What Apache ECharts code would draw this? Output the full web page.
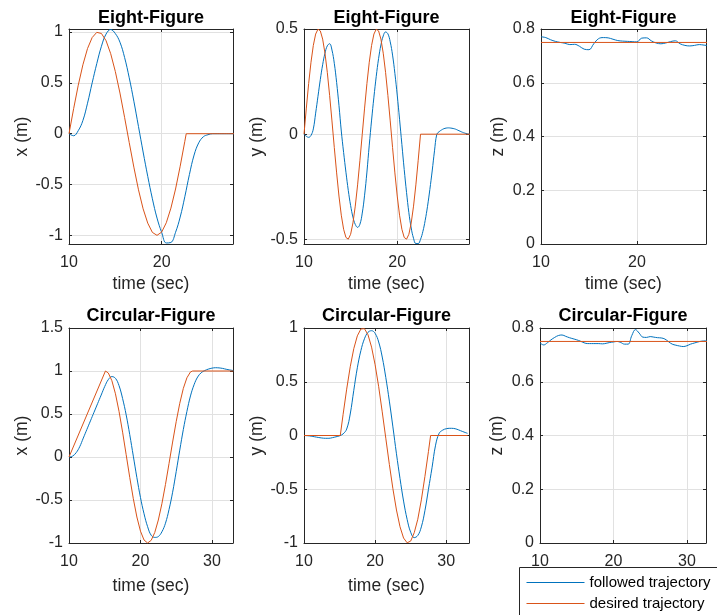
<!DOCTYPE html>
<html>
<head>
<meta charset="utf-8">
<script src="https://cdn.jsdelivr.net/npm/echarts@6/dist/echarts.min.js"></script>
<style>
html,body{margin:0;padding:0;background:#fff;}
#chart{width:717px;height:615px;}
</style>
</head>
<body>
<div id="chart"></div>
<script>
// ---------------- DATA ----------------
// time samples (s)
const tTop = [10,10.5,11,11.5,12,12.5,13,13.5,14,14.5,15,15.5,16,16.5,17,17.5,18,18.5,19,19.5,20,20.5,21,21.5,22,22.5,23,23.5,24,24.5,25,25.5,26,26.5,27,27.5,28];
const tTopFine = [10,10.25,10.5,10.75,11,11.25,11.5,11.75,12,12.25,12.5,12.75,13,13.25,13.5,13.75,14,14.25,14.5,14.75,15,15.25,15.5,15.75,16,16.25,16.5,16.75,17,17.25,17.5,17.75,18,18.25,18.5,18.75,19,19.25,19.5,19.75,20,20.25,20.5,20.75,21,21.25,21.5,21.75,22,22.25,22.5,22.75,23,23.25,23.5,23.75,24,24.25,24.5,24.75,25,25.25,25.5,25.75,26,26.25,26.5,26.75,27,27.25,27.5,27.75];
const tBot = [10,10.5,11,11.5,12,12.5,13,13.5,14,14.5,15,15.5,16,16.5,17,17.5,18,18.5,19,19.5,20,20.5,21,21.5,22,22.5,23,23.5,24,24.5,25,25.5,26,26.5,27,27.5,28,28.5,29,29.5,30,30.5,31,31.5,32,32.5,33];

// Eight-Figure : x
const x8Followed = [0,-0.02,0.03,0.13,0.30,0.50,0.69,0.86,0.98,1.025,0.985,0.90,0.75,0.55,0.32,0.07,-0.18,-0.42,-0.64,-0.83,-0.97,-1.075,-1.07,-0.97,-0.82,-0.62,-0.40,-0.21,-0.09,-0.03,-0.01,0,0,0,0,0,0];
const tDesX8 = [10,10.5,11,11.5,12,12.5,13,13.5,14,14.5,15,15.5,16,16.5,17,17.5,18,18.5,19,19.5,20,20.5,21,21.5,22,22.5,22.65,28];
const x8Desired = [0,0.246,0.477,0.678,0.838,0.946,0.997,0.986,0.915,0.787,0.612,0.400,0.161,-0.087,-0.329,-0.552,-0.739,-0.880,-0.971,-1.0,-0.968,-0.876,-0.732,-0.544,-0.320,-0.075,0,0];

// Eight-Figure : y
const y8Followed = [0,-0.010,-0.015,-0.006,0.025,0.10,0.18,0.26,0.33,0.385,0.42,0.43,0.40,0.337,0.246,0.137,0.015,-0.087,-0.181,-0.267,-0.339,-0.394,-0.429,-0.443,-0.428,-0.375,-0.290,-0.180,-0.052,0.067,0.176,0.275,0.359,0.424,0.467,0.486,0.477,0.439,0.376,0.289,0.186,0.071,-0.049,-0.168,-0.277,-0.373,-0.446,-0.495,-0.52,-0.52,-0.50,-0.463,-0.41,-0.343,-0.263,-0.175,-0.079,0.0,0.012,0.020,0.026,0.029,0.030,0.029,0.027,0.024,0.019,0.014,0.009,0.005,0.002,0.0];
const tDesY8 = [10,10.25,10.5,10.75,11,11.25,11.5,11.75,12,12.25,12.5,12.75,13,13.25,13.5,13.75,14,14.25,14.5,14.75,15,15.25,15.5,15.75,16,16.25,16.5,16.75,17,17.25,17.5,17.75,18,18.25,18.5,18.75,19,19.25,19.5,19.75,20,20.25,20.5,20.75,21,21.25,21.5,21.75,22,22.25,22.5,28];
const y8Desired = [0,0.124,0.241,0.342,0.422,0.476,0.499,0.491,0.452,0.385,0.294,0.184,0.063,-0.063,-0.184,-0.294,-0.385,-0.452,-0.491,-0.499,-0.476,-0.422,-0.342,-0.241,-0.124,0,0.124,0.241,0.342,0.422,0.476,0.499,0.491,0.452,0.385,0.294,0.184,0.063,-0.063,-0.184,-0.294,-0.385,-0.452,-0.491,-0.499,-0.476,-0.422,-0.342,-0.241,-0.124,0,0];

// Eight-Figure : z
const z8Followed = [0.771,0.768,0.760,0.754,0.750,0.747,0.742,0.743,0.736,0.725,0.723,0.745,0.764,0.768,0.767,0.762,0.757,0.755,0.754,0.753,0.752,0.766,0.767,0.756,0.748,0.745,0.748,0.753,0.756,0.745,0.739,0.737,0.739,0.742,0.740,0.738,0.737];
const tDesZ8 = [10,28];
const z8Desired = [0.75,0.75];

// Circular-Figure : x
const cxFollowed = [0,0.01,0.05,0.12,0.22,0.32,0.42,0.52,0.62,0.72,0.82,0.90,0.935,0.915,0.83,0.68,0.49,0.26,0.01,-0.24,-0.47,-0.66,-0.81,-0.91,-0.935,-0.925,-0.87,-0.77,-0.61,-0.41,-0.17,0.08,0.32,0.53,0.71,0.84,0.93,0.98,1.005,1.022,1.033,1.038,1.036,1.03,1.02,1.012,1.005];
const tDesCx = [10,15.1,15.5,16,16.5,17,17.5,18,18.5,19,19.5,20,20.5,21,21.5,22,22.5,23,23.5,24,24.5,25,25.5,26,26.5,27,27.3,33];
const cxDesired = [0,1,0.977,0.887,0.735,0.531,0.289,0.027,-0.237,-0.485,-0.698,-0.862,-0.965,-1.0,-0.969,-0.878,-0.733,-0.543,-0.319,-0.075,0.174,0.411,0.624,0.798,0.921,0.989,1,1];

// Circular-Figure : y
const cyFollowed = [0,-0.002,-0.006,-0.012,-0.018,-0.023,-0.026,-0.026,-0.02,-0.012,-0.003,0.015,0.06,0.2,0.42,0.63,0.79,0.90,0.96,0.975,0.95,0.87,0.73,0.54,0.32,0.08,-0.17,-0.40,-0.61,-0.78,-0.90,-0.95,-0.93,-0.85,-0.70,-0.50,-0.30,-0.09,0.02,0.05,0.063,0.067,0.066,0.058,0.045,0.032,0.02];
const tDesCy = [10,15.1,15.5,16,16.5,17,17.5,18,18.5,19,19.5,20,20.5,21,21.5,22,22.5,23,23.5,24,24.5,25,25.5,26,26.5,27,27.5,27.8,33];
const cyDesired = [0,0,0.197,0.431,0.639,0.808,0.927,0.991,0.994,0.937,0.822,0.658,0.454,0.220,-0.025,-0.269,-0.495,-0.693,-0.849,-0.954,-0.998,-0.982,-0.904,-0.779,-0.599,-0.382,-0.148,0,0];

// Circular-Figure : z
const czFollowed = [0.745,0.737,0.745,0.756,0.765,0.772,0.774,0.769,0.764,0.760,0.756,0.751,0.745,0.742,0.742,0.742,0.742,0.741,0.743,0.746,0.748,0.750,0.746,0.740,0.740,0.772,0.794,0.781,0.766,0.765,0.768,0.766,0.764,0.763,0.759,0.749,0.740,0.736,0.733,0.731,0.734,0.740,0.744,0.748,0.751,0.752,0.752];
const tDesCz = [10,33];
const czDesired = [0.75,0.75];

// tick labels
const xTicksTop = [10,20];
const xTicksBot = [10,20,30];
const yTicksX8 = [-1,-0.5,0,0.5,1];
const yTicksY8 = [-0.5,0,0.5];
const yTicksZ = [0,0.2,0.4,0.6,0.8];
const yTicksCx = [-1,-0.5,0,0.5,1,1.5];
const yTicksCy = [-1,-0.5,0,0.5,1];

const titles = ['Eight-Figure','Eight-Figure','Eight-Figure','Circular-Figure','Circular-Figure','Circular-Figure'];
const yNames = ['x (m)','y (m)','z (m)','x (m)','y (m)','z (m)'];
const legendNames = ['followed trajectory','desired trajectory'];

// ---------------- LAYOUT / STYLE ----------------
const FONT = "'Liberation Sans', Arial, Helvetica, sans-serif";
const BLUE = '#0072BD', ORANGE = '#D95319';
const AX = '#262626', GRIDC = '#e1e1e1';

const panels = [
  {grid:{left:69, top:29, width:164, height:215}, x:[10,27.7], y:[-1.085,1.03], xt:xTicksTop, yt:yTicksX8, yGap:38, xGap:31, titleTop:9,
   fol:[tTop,x8Followed], des:[tDesX8,x8Desired]},
  {grid:{left:304, top:29, width:165, height:215}, x:[10,27.7], y:[-0.522,0.5], xt:xTicksTop, yt:yTicksY8, yGap:37, xGap:31, titleTop:9,
   fol:[tTopFine,y8Followed], des:[tDesY8,y8Desired]},
  {grid:{left:541, top:29, width:165, height:215}, x:[10,27.2], y:[0,0.8], xt:xTicksTop, yt:yTicksZ, yGap:34, xGap:31, titleTop:9,
   fol:[tTop,z8Followed], des:[tDesZ8,z8Desired]},
  {grid:{left:69, top:328, width:164, height:215}, x:[10,32.95], y:[-1,1.5], xt:xTicksBot, yt:yTicksCx, yGap:38, xGap:34, titleTop:307,
   fol:[tBot,cxFollowed], des:[tDesCx,cxDesired]},
  {grid:{left:304, top:328, width:165, height:215}, x:[10,33.2], y:[-1,1], xt:xTicksBot, yt:yTicksCy, yGap:37, xGap:34, titleTop:307,
   fol:[tBot,cyFollowed], des:[tDesCy,cyDesired]},
  {grid:{left:540, top:328, width:166, height:215}, x:[10,32.6], y:[0,0.8], xt:xTicksBot, yt:yTicksZ, yGap:34, xGap:34, titleTop:307,
   fol:[tBot,czFollowed], des:[tDesCz,czDesired]}
];

const zip = (t, v) => v.map((y, i) => [t[i], y]);

const grids = [], xAxes = [], yAxes = [], series = [], titleOpts = [];
const lineAx = {show:true, onZero:false, lineStyle:{color:AX, width:1}};
const tickAx = vals => ({show:true, inside:true, length:3, customValues:vals, lineStyle:{color:AX, width:1}});
const labelStyle = {fontSize:16, color:AX, fontFamily:FONT};
const nameStyle = {fontSize:17.5, color:AX, fontFamily:FONT};

panels.forEach((p, g) => {
  grids.push(Object.assign({show:false}, p.grid));
  titleOpts.push({text:titles[g], left:p.grid.left + p.grid.width/2, top:p.titleTop, textAlign:'center', padding:0,
    textStyle:{fontSize:18, fontWeight:'bold', color:'#000', fontFamily:FONT}});
  xAxes.push({gridIndex:g, type:'value', position:'bottom', min:p.x[0], max:p.x[1],
    name:'time (sec)', nameLocation:'middle', nameGap:p.xGap, nameTextStyle:nameStyle,
    axisLine:lineAx, axisTick:tickAx(p.xt),
    axisLabel:Object.assign({customValues:p.xt, margin:11}, labelStyle),
    splitLine:{show:true, lineStyle:{color:GRIDC, width:1}}});
  xAxes.push({gridIndex:g, type:'value', position:'top', min:p.x[0], max:p.x[1],
    axisLine:lineAx, axisTick:tickAx(p.xt), axisLabel:{show:false}, splitLine:{show:false}});
  yAxes.push({gridIndex:g, type:'value', position:'left', min:p.y[0], max:p.y[1],
    name:yNames[g], nameLocation:'middle', nameGap:p.yGap, nameRotate:90, nameTextStyle:nameStyle,
    axisLine:lineAx, axisTick:tickAx(p.yt),
    axisLabel:Object.assign({customValues:p.yt, margin:6}, labelStyle),
    splitLine:{show:true, lineStyle:{color:GRIDC, width:1}}});
  yAxes.push({gridIndex:g, type:'value', position:'right', min:p.y[0], max:p.y[1],
    axisLine:lineAx, axisTick:tickAx(p.yt), axisLabel:{show:false}, splitLine:{show:false}});

  series.push({type:'line', name:legendNames[0], xAxisIndex:2*g, yAxisIndex:2*g,
    data:zip(p.fol[0], p.fol[1]), symbol:'none', smooth:0.4, clip:true,
    lineStyle:{color:BLUE, width:1}, itemStyle:{color:BLUE}, z:2});
  series.push({type:'line', name:legendNames[1], xAxisIndex:2*g, yAxisIndex:2*g,
    data:zip(p.des[0], p.des[1]), symbol:'none', smooth:false, clip:true,
    lineStyle:{color:ORANGE, width:1}, itemStyle:{color:ORANGE}, z:3});
});

const chart = echarts.init(document.getElementById('chart'), null, {renderer:'canvas'});
chart.setOption({
  animation:false,
  backgroundColor:'#fff',
  title:titleOpts,
  grid:grids,
  xAxis:xAxes,
  yAxis:yAxes,
  legend:{
    data:legendNames, orient:'vertical', left:519, top:567,
    itemWidth:58, itemHeight:14, itemGap:4, padding:[7,40,3,7],
    backgroundColor:'#fff', borderWidth:0, borderRadius:0,
    selectedMode:false, itemStyle:{opacity:0}, lineStyle:{width:1},
    textStyle:{fontSize:15, color:'#000', fontFamily:FONT, lineHeight:17}
  },
  // legend frame: the reference box runs off the right and bottom edges of the figure
  graphic:[{type:'polyline', z:100, silent:true,
    shape:{points:[[730,567.5],[519.5,567.5],[519.5,630]]},
    style:{stroke:AX, lineWidth:1, fill:null}}],
  series:series
});
</script>
</body>
</html>
